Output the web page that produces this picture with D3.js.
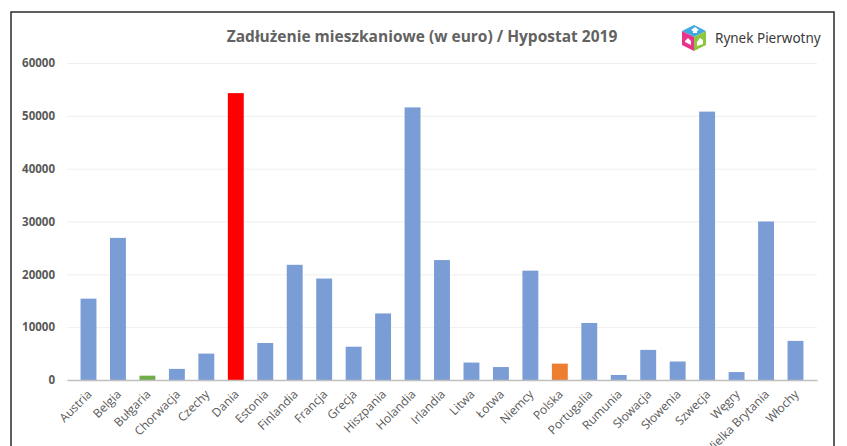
<!DOCTYPE html>
<html>
<head>
<meta charset="utf-8">
<script src="https://cdn.jsdelivr.net/npm/d3@7"></script>
<style>
  body { margin: 0; background: #fff; }
  svg { display: block; }
  .tick text { fill: #595959; }
</style>
</head>
<body>
<div id="chart"></div>
<script>
// data
const countries = ['Austria', 'Belgia', 'Bułgaria', 'Chorwacja', 'Czechy', 'Dania', 'Estonia',
	'Finlandia', 'Francja', 'Grecja', 'Hiszpania', 'Holandia', 'Irlandia', 'Litwa', 'Łotwa',
	'Niemcy', 'Polska', 'Portugalia', 'Rumunia', 'Słowacja', 'Słowenia', 'Szwecja', 'Węgry',
	'Wielka Brytania', 'Włochy'];
const debt = [15400, 26900, 820, 2100, 5000, 54300, 7000, 21800, 19200, 6300, 12600, 51600, 22700,
	3300, 2450, 20700, 3100, 10800, 950, 5700, 3500, 50800, 1500, 30000, 7400];
const yTicks = [0, 10000, 20000, 30000, 40000, 50000, 60000];
const highlight = { 'Dania': '#ff0000', 'Bułgaria': '#70ad47', 'Polska': '#ed7d31' };

const W = 847, H = 446;
const margin = {top: 63, right: 30, bottom: 66, left: 67};
const width = W - margin.left - margin.right;
const height = H - margin.top - margin.bottom;

const svg = d3.select('#chart').append('svg')
	.attr('width', W)
	.attr('height', H);

// outer frame of the chart picture
svg.append('rect')
	.attr('x', 11).attr('y', 12)
	.attr('width', 823).attr('height', 460)
	.attr('fill', '#fff')
	.attr('stroke', '#2b2b2b')
	.attr('stroke-width', 1.5);

svg.append('text')
	.attr('x', 422).attr('y', 42)
	.attr('text-anchor', 'middle')
	.style('font-family', '"Open Sans", sans-serif')
	.style('font-size', '15.5px')
	.style('font-weight', 'bold')
	.attr('fill', '#626262')
	.text('Zadłużenie mieszkaniowe (w euro) / Hypostat 2019');

// logo
const logo = svg.append('g').attr('transform', 'translate(694,38)');
logo.append('path').attr('d', 'M0,-13 L12,-7 L0,-1 L-12,-7 Z').attr('fill', '#3fa9e0');
logo.append('path').attr('d', 'M-12,-7 L0,-1 L0,13 L-12,7 Z').attr('fill', '#e8358a');
logo.append('path').attr('d', 'M0,-1 L12,-7 L12,7 L0,13 Z').attr('fill', '#8cc63f');
logo.append('path').attr('d', 'M-3,-8 L1,-11 L5,-8 L3,-7 L3,-5 L-1,-5 L-1,-7 Z').attr('fill', '#fff');
logo.append('path').attr('d', 'M-9,3 L-6,0 L-3,3 L-3,7 L-9,4 Z').attr('fill', '#fff');
logo.append('path').attr('d', 'M3,4 L6,0 L9,2 L9,6 L3,8 Z').attr('fill', '#fff');
svg.append('text')
	.attr('x', 715).attr('y', 43)
	.style('font-family', '"Noto Sans", sans-serif')
	.style('font-size', '13.5px')
	.attr('fill', '#3a3a3a')
	.text('Rynek Pierwotny');

const g = svg.append('g')
	.attr('transform', `translate(${margin.left}, ${margin.top})`);

const xScale = d3.scaleBand()
	.domain(countries)
	.range([0, width])
	.padding(0.46);

const yScale = d3.scaleLinear()
	.domain([0, 60000])
	.range([height, 0]);

// gridlines + y labels
const yAxis = d3.axisLeft(yScale)
	.tickValues(yTicks)
	.tickSize(-width)
	.tickPadding(12)
	.tickFormat(d3.format('d'));

g.append('g')
	.attr('class', 'y-axis')
	.call(yAxis)
	.call(a => a.select('.domain').remove())
	.call(a => a.selectAll('line').attr('stroke', '#efefef'))
	.call(a => a.selectAll('text')
		.style('font-family', '"Open Sans", sans-serif')
		.style('font-size', '11.5px')
		.style('font-weight', 'bold'));

g.selectAll('.bar')
	.data(countries)
	.enter()
	.append('rect')
		.attr('class', 'bar')
		.attr('x', d => xScale(d))
		.attr('width', xScale.bandwidth())
		.attr('y', (d, i) => yScale(debt[i]))
		.attr('height', (d, i) => height - yScale(debt[i]))
		.attr('fill', d => highlight[d] || '#7a9dd6');

// x axis
const xAxis = d3.axisBottom(xScale).tickSize(0).tickPadding(0);

g.append('g')
	.attr('class', 'x-axis')
	.attr('transform', `translate(0, ${height})`)
	.call(xAxis)
	.call(a => a.select('.domain').attr('stroke', '#bfbfbf').attr('stroke-width', 1.5))
	.call(a => a.selectAll('text')
		.style('font-family', '"Open Sans", sans-serif')
		.style('font-size', '12px')
		.attr('text-anchor', 'end')
		.attr('dy', 0)
		.attr('transform', 'translate(4, 15) rotate(-45)'));
</script>
</body>
</html>
